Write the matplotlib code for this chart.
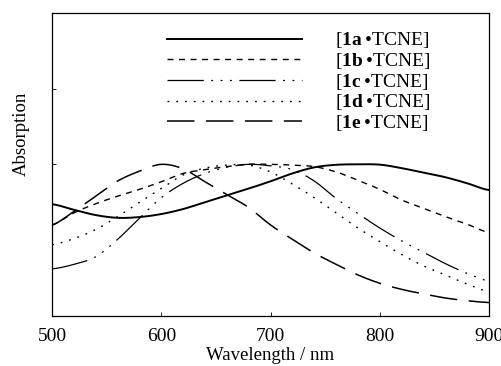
import numpy as np
import matplotlib
matplotlib.use("Agg")
import matplotlib.pyplot as plt

plt.rcParams['font.family'] = ['Liberation Serif', 'DejaVu Serif']
plt.rcParams['mathtext.fontset'] = 'custom'
plt.rcParams['mathtext.rm'] = 'Liberation Serif'
plt.rcParams['mathtext.bf'] = 'Liberation Serif:bold'

# wavelength grid (nm) and normalised absorption
wavelength = [500, 520, 540, 560, 580, 600, 620, 640, 660, 680, 700,
              720, 740, 760, 780, 800, 820, 840, 860, 880, 900]
abs_1a = [0.737, 0.70, 0.665, 0.647, 0.652, 0.672, 0.705, 0.75, 0.795, 0.84, 0.888,
          0.94, 0.98, 0.997, 1.0, 0.998, 0.975, 0.945, 0.915, 0.875, 0.83]
abs_1b = [0.60, 0.68, 0.74, 0.79, 0.835, 0.885, 0.94, 0.965, 0.985, 1.0, 1.0,
          0.995, 0.985, 0.95, 0.895, 0.835, 0.765, 0.71, 0.655, 0.605, 0.55]
abs_1c = [0.31, 0.34, 0.39, 0.505, 0.645, 0.78, 0.875, 0.94, 0.98, 1.0, 0.99,
          0.965, 0.89, 0.775, 0.675, 0.58, 0.495, 0.42, 0.345, 0.28, 0.23]
abs_1d = [0.47, 0.51, 0.57, 0.655, 0.75, 0.84, 0.93, 0.975, 0.995, 0.995, 0.95,
          0.87, 0.78, 0.68, 0.58, 0.49, 0.405, 0.33, 0.27, 0.21, 0.16]
abs_1e = [0.60, 0.69, 0.79, 0.89, 0.955, 1.0, 0.97, 0.885, 0.80, 0.715, 0.60,
          0.505, 0.415, 0.34, 0.27, 0.215, 0.175, 0.145, 0.118, 0.10, 0.088]

labels = ["[$\\mathbf{1a}$\u2009•TCNE]", "[$\\mathbf{1b}$\u2009•TCNE]", "[$\\mathbf{1c}$\u2009•TCNE]",
          "[$\\mathbf{1d}$\u2009•TCNE]", "[$\\mathbf{1e}$\u2009•TCNE]"]

styles = [
    dict(ls='-', lw=1.4),
    dict(ls=(0, (4.3, 4)), lw=1.0),
    dict(ls=(0, (29, 6, 1.5, 6, 1.5, 6, 1.5, 6)), lw=0.9),
    dict(ls=(0, (1.3, 5)), lw=1.0),
    dict(ls=(0, (18, 7.5)), lw=1.1),
]


def smooth(x, y, n=12):
    # catmull-rom through the read points, only for drawing
    x = np.asarray(x, float); y = np.asarray(y, float)
    xs, ys = [], []
    for i in range(len(x) - 1):
        y0 = y[i - 1] if i > 0 else y[i]
        y3 = y[i + 2] if i + 2 < len(y) else y[i + 1]
        m1 = (y[i + 1] - y0) / 2
        m2 = (y3 - y[i]) / 2
        t = np.linspace(0, 1, n, endpoint=False)
        h00 = 2*t**3 - 3*t**2 + 1; h10 = t**3 - 2*t**2 + t
        h01 = -2*t**3 + 3*t**2; h11 = t**3 - t**2
        xs.append(x[i] + t * (x[i + 1] - x[i]))
        ys.append(h00*y[i] + h10*m1 + h01*y[i + 1] + h11*m2)
    xs.append([x[-1]]); ys.append([y[-1]])
    return np.concatenate(xs), np.concatenate(ys)


fig = plt.figure(figsize=(5.01, 3.66), dpi=100)
ax = fig.add_axes([0.104, 0.137, 0.872, 0.828])

for ys, lab, st in zip([abs_1a, abs_1b, abs_1c, abs_1d, abs_1e], labels, styles):
    sx, sy = smooth(wavelength, ys)
    ax.plot(sx, sy, color='black', label=lab, **st)

ax.set_xlim(500, 900)
ax.set_ylim(0, 2)
ax.set_xticks([500, 600, 700, 800, 900])
ax.set_yticks([1.0, 1.5])
ax.set_yticklabels([])
ax.tick_params(direction='in', length=3, width=0.6, labelsize=14, pad=9)
for s in ax.spines.values():
    s.set_linewidth(0.9)

ax.set_xlabel("Wavelength / nm", fontsize=13.5, labelpad=1)
ax.set_ylabel("Absorption", fontsize=13.5)
ax.yaxis.set_label_coords(-0.052, 0.6)

ax.legend(loc='upper right', bbox_to_anchor=(0.867, 0.942), frameon=False,
          fontsize=14, handlelength=6.95, handletextpad=1.7, labelspacing=0.035,
          borderpad=0, borderaxespad=0)

fig.savefig("out.png", dpi=100)
